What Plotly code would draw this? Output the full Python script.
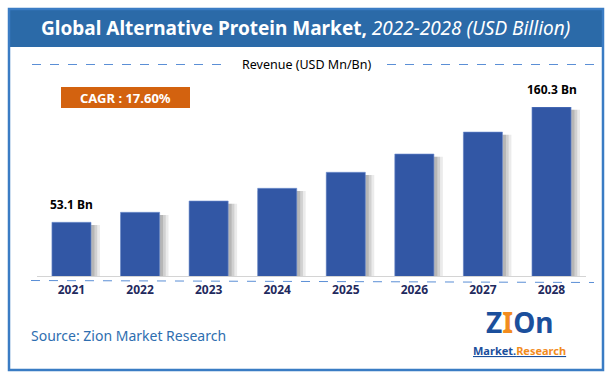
import plotly.graph_objects as go

years = ["2021", "2022", "2023", "2024", "2025", "2026", "2027", "2028"]
revenue = [53.1, 62.4, 72.9, 84.7, 99.6, 116.6, 137.0, 160.3]
label_unit = "Bn"
title_main = "Global Alternative Protein Market,"
title_sub = "2022-2028 (USD Billion)"
axis_title = "Revenue (USD Mn/Bn)"
cagr_text = "CAGR : 17.60%"
source_text = "Source: Zion Market Research"

W, H = 610, 386
FONT = "Noto Sans"
BAR = "#3257a5"

def px(x):
    return x / W

def py(y):
    return 1 - y / H

fig = go.Figure()

bw = 0.57
# soft shadow layers on the right of each bar
for ext, op in [(0.13, 0.10), (0.09, 0.14), (0.05, 0.18)]:
    fig.add_trace(go.Bar(
        x=years, y=[v - 2.5 for v in revenue], width=bw + ext, offset=-bw / 2,
        marker=dict(color=f"rgba(60,60,60,{op})", line=dict(width=0)),
        hoverinfo="skip", showlegend=False))

fig.add_trace(go.Bar(
    x=years, y=revenue, width=bw,
    marker=dict(color=BAR, line=dict(color="#6f8fd0", width=0.6)),
    showlegend=False))

fig.update_layout(
    width=W, height=H, margin=dict(l=0, r=0, t=0, b=0),
    paper_bgcolor="white", plot_bgcolor="rgba(0,0,0,0)",
    barmode="overlay", font=dict(family=FONT),
    xaxis=dict(type="category", domain=[37.2 / W, 585.8 / W], range=[-0.5, 7.5],
               showgrid=False, zeroline=False, showline=True,
               linecolor="#d4d4d4", linewidth=1, ticks="",
               tickfont=dict(family=FONT, size=12, color="#1f2a5e", weight="bold"),
               ticklabelstandoff=3),
    yaxis=dict(domain=[py(276), py(107)], range=[3.17, 160.3],
               visible=False, showgrid=False),
)

def note(x, y, text, font, xanchor="center", **kw):
    d = dict(x=x, y=y, xref="paper", yref="paper", text=text, showarrow=False,
             xanchor=xanchor, yanchor="middle", font=font)
    d.update(kw)
    return d

annotations = []
# value labels for first and last bars (category index on the x axis)
for i in (0, len(years) - 1):
    annotations.append(dict(x=i, y=revenue[i], xref="x", yref="y",
                            text=f"<b>{revenue[i]} {label_unit}</b>", showarrow=False,
                            xanchor="center", yanchor="middle", yshift=18,
                            font=dict(family=FONT, size=12, color="black")))
annotations.append(note(px(305), py(28), f"<b>{title_main}</b> <i>{title_sub}</i>",
                        dict(family=FONT, size=19, color="white")))
annotations.append(note(px(306), py(64), axis_title,
                        dict(family=FONT, size=12.5, color="black")))
annotations.append(note(px(125.5), py(97.5), f"<b>{cagr_text}</b>",
                        dict(family=FONT, size=13, color="white")))
annotations.append(note(px(29), py(335), source_text,
                        dict(family=FONT, size=14, color="#2e6eb0"), xanchor="left"))
annotations.append(note(px(519), py(322), "<b>Z<span style='color:#f28c1e'>I</span>On</b>",
                        dict(family=FONT, size=28, color="#1b4f9c")))
annotations.append(note(px(519), py(350),
                        "<b><u>Market.<span style='color:#f28c1e'>Research</span></u></b>",
                        dict(family=FONT, size=11, color="#1b4f9c")))
fig.update_layout(annotations=annotations)

shapes = [
    # title band
    dict(type="rect", xref="paper", yref="paper", x0=px(9), x1=px(603), y0=py(47), y1=py(9),
         line=dict(width=0), fillcolor="#2b6aa8", layer="below"),
    # frame
    dict(type="rect", xref="paper", yref="paper", x0=px(9), x1=px(603), y0=py(370), y1=py(9),
         line=dict(color="#3a7cc4", width=2.5), fillcolor="rgba(0,0,0,0)", layer="above"),
    # CAGR box
    dict(type="rect", xref="paper", yref="paper", x0=px(61), x1=px(190), y0=py(108), y1=py(87),
         line=dict(width=0), fillcolor="#d3620f", layer="below"),
    # dashed lines near axis title
    dict(type="line", xref="paper", yref="paper", x0=px(32), x1=px(226), y0=py(64.5), y1=py(64.5),
         line=dict(color="#5b8fd6", width=1, dash="dash")),
    dict(type="line", xref="paper", yref="paper", x0=px(387), x1=px(594), y0=py(64.5), y1=py(64.5),
         line=dict(color="#5b8fd6", width=1, dash="dash")),
    # dashed line under axis
    dict(type="line", xref="paper", yref="paper", x0=px(31), x1=px(594), y0=py(280.5), y1=py(282.5),
         line=dict(color="#5b8fd6", width=1, dash="dash")),
]
fig.update_layout(shapes=shapes)

fig.write_html("out.html", config={"displayModeBar": False},
               post_script="document.body.style.margin='0';document.body.style.overflow='hidden';")
